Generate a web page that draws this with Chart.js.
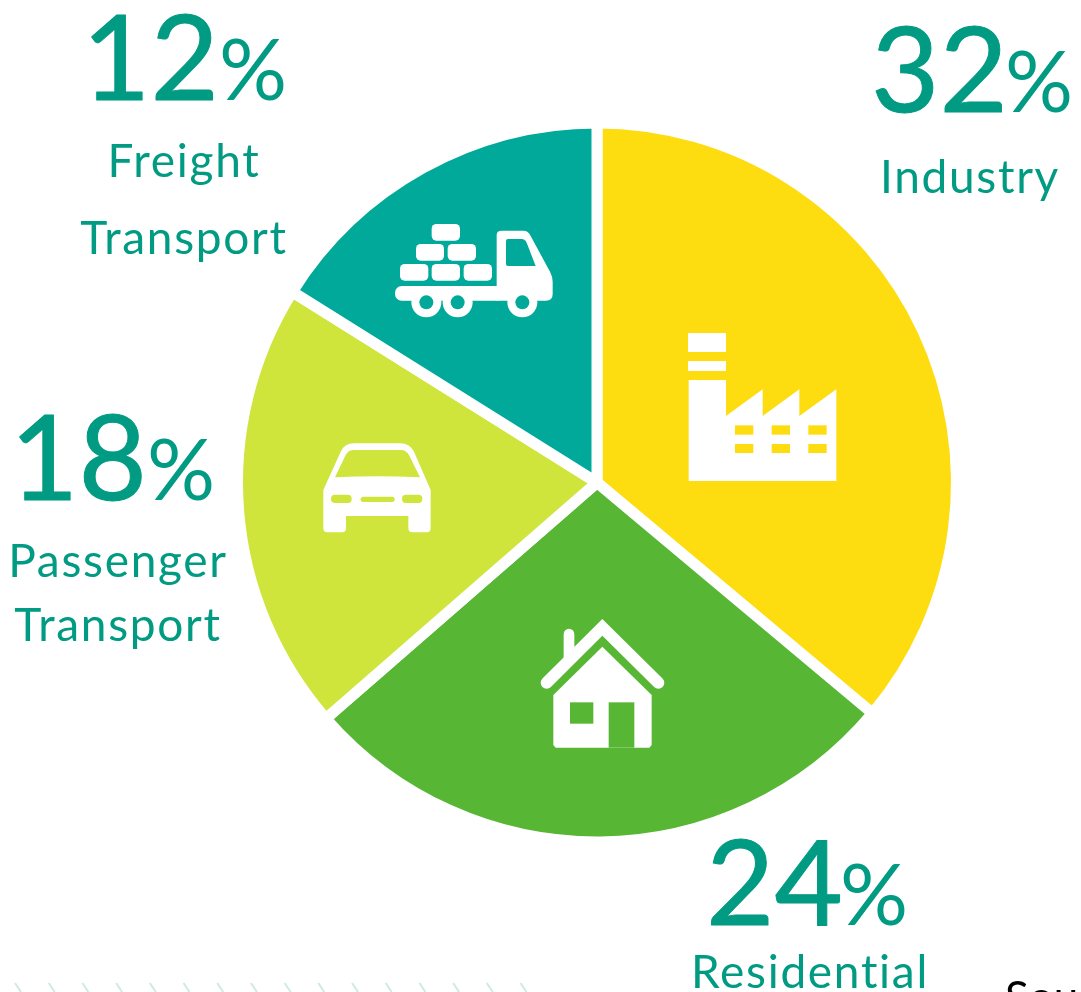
<!DOCTYPE html>
<html><head><meta charset="utf-8">
<style>html,body{margin:0;padding:0;background:#fff;overflow:hidden}canvas{display:block}</style>
<script src="https://cdn.jsdelivr.net/npm/chart.js@4"></script>
</head><body>
<canvas id="c" width="1081" height="992"></canvas>
<script>
const categories = ['Industry','Residential','Passenger Transport','Freight Transport'];
const statedPercent = [32,24,18,12];
const drawnShare = [36.1,27.5,20.3,16.1];
const sliceColors = ['#FDDD0F','#57B735','#CFE53C','#00A99A'];
const TEXT = '#009B82';
const FONT = 'Lato';

function rr(ctx,x0,y0,x1,y1,r){ctx.beginPath();ctx.roundRect(x0,y0,x1-x0,y1-y0,r);ctx.fill();}
function poly(ctx,p){ctx.beginPath();p.forEach((q,i)=>i?ctx.lineTo(q[0],q[1]):ctx.moveTo(q[0],q[1]));ctx.closePath();ctx.fill();}
function icon(ctx,ox,oy,fn){ctx.save();ctx.translate(ox,oy);ctx.scale(1/3,1/3);ctx.fillStyle='#fff';ctx.strokeStyle='#fff';fn(ctx);ctx.restore();}

function truck(c){
  [[155,42,240,92],[108,102,192,152],[203,102,288,152],[60,162,145,212],[155,162,240,212],[251,162,336,212]].forEach(b=>rr(c,b[0],b[1],b[2],b[3],14));
  rr(c,45,228,370,272,20);
  [139,233,427].forEach(x=>{c.beginPath();c.arc(x,277,45,0,Math.PI*2);c.fill();});
  c.beginPath();c.moveTo(350,75);c.quadraticCurveTo(350,62,365,62);c.lineTo(430,62);c.quadraticCurveTo(445,62,452,78);
  c.lineTo(510,185);c.quadraticCurveTo(518,200,518,215);c.lineTo(518,252);c.quadraticCurveTo(518,272,498,272);c.lineTo(350,272);c.closePath();c.fill();
  c.fillStyle='#00A99A';
  [139,233,427].forEach(x=>{c.beginPath();c.arc(x,277,21,0,Math.PI*2);c.fill();});
  c.beginPath();c.moveTo(378,92);c.quadraticCurveTo(378,87,384,87);c.lineTo(425,87);c.quadraticCurveTo(435,87,440,98);c.lineTo(467,168);c.lineTo(384,168);c.quadraticCurveTo(378,168,378,162);c.closePath();c.fill();
}
function factory(c){
  c.fillRect(54,39,114,57);c.fillRect(54,123,114,30);
  poly(c,[[56,180],[168,180],[168,288],[278,208],[278,288],[388,208],[388,288],[499,208],[499,483],[56,483]]);
  c.fillStyle='#FDDD0F';
  [195,305,415].forEach(x=>{c.fillRect(x,316,55,28);c.fillRect(x,372,55,27);});
}
function house(c){
  c.lineCap='round';c.lineJoin='miter';c.lineWidth=36;
  c.beginPath();c.moveTo(50,218);c.lineTo(217,52);c.lineTo(385,218);c.stroke();
  c.lineWidth=32;c.beginPath();c.moveTo(117,72);c.lineTo(117,150);c.stroke();
  poly(c,[[217,110],[365,255],[365,405],[358,413],[77,413],[70,405],[70,255]]);
  c.fillStyle='#57B735';c.fillRect(120,277,70,64);c.fillRect(236,277,77,136);
}
function car(c){
  c.beginPath();c.moveTo(40,165);c.lineTo(92,50);c.quadraticCurveTo(104,25,132,25);c.lineTo(272,25);c.quadraticCurveTo(298,25,312,50);
  c.lineTo(362,165);c.lineTo(362,280);c.quadraticCurveTo(362,292,350,292);c.lineTo(307,292);c.quadraticCurveTo(295,292,295,280);c.lineTo(295,243);
  c.lineTo(108,243);c.lineTo(108,280);c.quadraticCurveTo(108,292,96,292);c.lineTo(52,292);c.quadraticCurveTo(40,292,40,280);c.closePath();c.fill();
  c.fillStyle='#CFE53C';
  c.beginPath();c.moveTo(75,127);c.lineTo(106,62);c.quadraticCurveTo(113,45,132,45);c.lineTo(272,45);c.quadraticCurveTo(290,45,298,62);c.lineTo(330,127);c.quadraticCurveTo(200,120,75,127);c.closePath();c.fill();
  rr(c,63,179,125,204,12);rr(c,276,179,337,204,12);rr(c,152,185,254,201,8);
}

const labelSpec = [
  {nx:871,ny:112,px:1005,lines:['Industry'],lx:970,ly:[193]},
  {nx:706,ny:925,px:840,lines:['Residential'],lx:810,ly:[988]},
  {nx:10,ny:500,px:147,lines:['Passenger','Transport'],lx:118,ly:[577,641]},
  {nx:82,ny:100,px:219,lines:['Freight','Transport'],lx:184,ly:[177,254]}
];

const overlay = {
  id:'overlay',
  afterDraw(chart){
    const c = chart.ctx;
    icon(c,380,210,truck);icon(c,670,320,factory);icon(c,530,610,house);icon(c,310,435,car);
    c.save();
    c.textBaseline='alphabetic';c.fillStyle=TEXT;c.strokeStyle=TEXT;c.lineJoin='round';
    labelSpec.forEach((s,i)=>{
      c.textAlign='left';c.letterSpacing='0px';
      c.font='400 118px '+FONT;c.lineWidth=1;
      c.fillText(String(statedPercent[i]),s.nx,s.ny);c.strokeText(String(statedPercent[i]),s.nx,s.ny);
      c.font='400 85px '+FONT;c.fillText('%',s.px,s.ny);
      c.textAlign='center';c.font='400 46px '+FONT;c.letterSpacing='1.7px';
      s.lines.forEach((t,j)=>c.fillText(t,s.lx,s.ly[j]));
    });
    c.textAlign='left';c.letterSpacing='0px';c.fillStyle='#000';c.font='400 44px '+FONT;c.fillText('Source',1005,1013);
    c.strokeStyle='#CFEAE3';c.lineWidth=2;
    for(let i=0;i<16;i++){const x=15+33.7*i;c.beginPath();c.moveTo(x,983);c.lineTo(x+6,992);c.stroke();}
    c.restore();
  }
};

new Chart(document.getElementById('c'),{
  type:'pie',
  data:{labels:categories,datasets:[{data:drawnShare,backgroundColor:sliceColors,borderColor:'#fff',borderWidth:11,hoverOffset:0}]},
  options:{
    responsive:false,animation:false,
    radius:359.5,
    layout:{padding:{left:113,bottom:27}},
    plugins:{legend:{display:false},tooltip:{enabled:false}},
    events:[]
  },
  plugins:[overlay]
});
</script>
</body></html>
